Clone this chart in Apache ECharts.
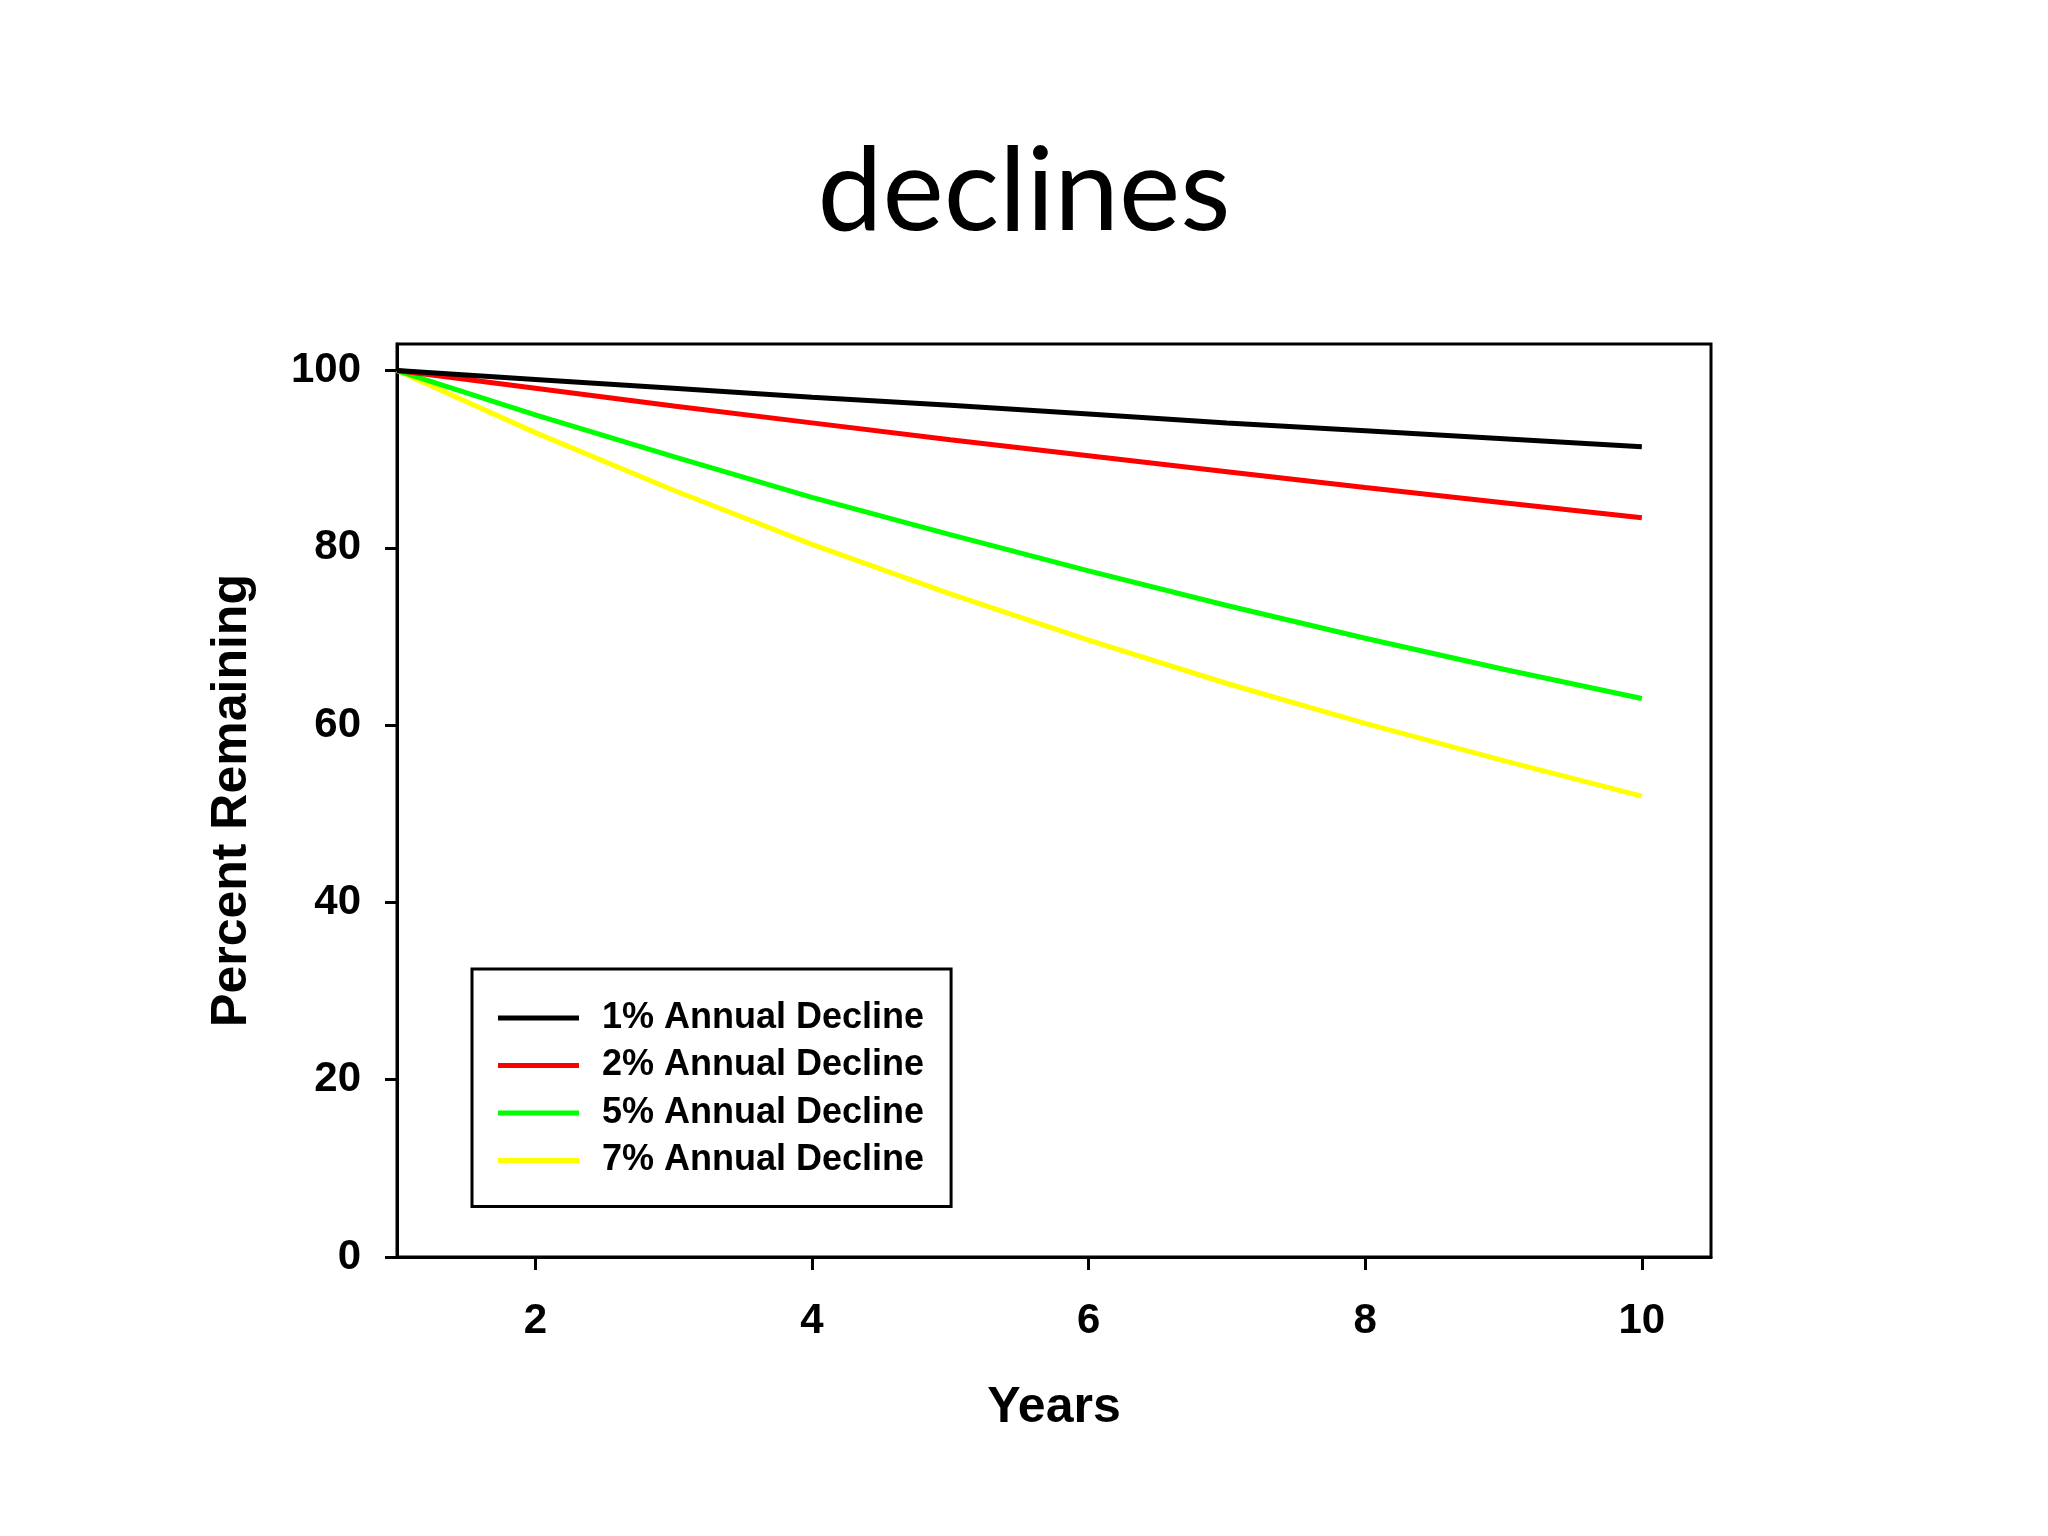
<!DOCTYPE html>
<html>
<head>
<meta charset="utf-8">
<script src="https://cdn.jsdelivr.net/npm/echarts@6/dist/echarts.min.js"></script>
<style>html,body{margin:0;padding:0;background:#fff;}#c{width:2048px;height:1536px;}</style>
</head>
<body>
<div id="c"></div>
<script>
var years = [1, 2, 3, 4, 5, 6, 7, 8, 9, 10];
var xTicks = [2, 4, 6, 8, 10];
var yTicks = [0, 20, 40, 60, 80, 100];
var seriesNames = ['1% Annual Decline', '2% Annual Decline', '5% Annual Decline', '7% Annual Decline'];
var decline1 = [100, 99.0, 98.0, 97.0, 96.1, 95.1, 94.1, 93.2, 92.3, 91.4];
var decline2 = [100, 98.0, 96.0, 94.1, 92.2, 90.4, 88.6, 86.8, 85.1, 83.4];
var decline5 = [100, 95.0, 90.3, 85.7, 81.5, 77.4, 73.5, 69.8, 66.3, 63.0];
var decline7 = [100, 93.0, 86.5, 80.4, 74.8, 69.6, 64.7, 60.2, 56.0, 52.0];
var seriesColors = ['#000000', '#ff0000', '#00ff00', '#ffff00'];

var allData = [decline1, decline2, decline5, decline7];
function pairs(vals) { return years.map(function (y, i) { return [y, vals[i]]; }); }

var font = 'Liberation Sans';
var chart = echarts.init(document.getElementById('c'));
chart.setOption({
  backgroundColor: '#ffffff',
  animation: false,
  title: {
    text: 'declines',
    left: 'center',
    top: 130,
    textStyle: { fontFamily: 'Lato', fontWeight: 'normal', fontSize: 116, color: '#000' }
  },
  grid: {
    left: 397, right: 337, top: 344, bottom: 279,
    show: true, borderColor: '#000', borderWidth: 3, backgroundColor: 'transparent'
  },
  legend: {
    orient: 'vertical',
    left: 472, top: 969,
    padding: [29, 27, 26, 26],
    borderColor: '#000', borderWidth: 3,
    itemWidth: 81, itemHeight: 5, itemGap: 7.5,
    icon: 'rect',
    data: seriesNames,
    textStyle: { fontFamily: font, fontWeight: 'bold', fontSize: 36, lineHeight: 40, color: '#000', padding: [0, 0, 0, 18] }
  },
  xAxis: {
    type: 'value', min: 1, max: 10.5,
    name: 'Years', nameLocation: 'middle', nameGap: 126,
    nameTextStyle: { fontFamily: font, fontWeight: 'bold', fontSize: 50, color: '#000' },
    splitLine: { show: false },
    axisLine: { show: true, lineStyle: { color: '#000', width: 3 } },
    axisTick: { show: true, inside: false, length: 13, lineStyle: { color: '#000', width: 3 }, customValues: xTicks },
    axisLabel: { margin: 43, fontFamily: font, fontWeight: 'bold', fontSize: 42, color: '#000', customValues: xTicks }
  },
  yAxis: {
    type: 'value', min: 0, max: 103,
    name: 'Percent Remaining', nameLocation: 'middle', nameGap: 140, nameRotate: 90,
    nameTextStyle: { fontFamily: font, fontWeight: 'bold', fontSize: 50, color: '#000' },
    splitLine: { show: false },
    axisLine: { show: true, lineStyle: { color: '#000', width: 3 } },
    axisTick: { show: true, inside: false, length: 12, lineStyle: { color: '#000', width: 3 }, customValues: yTicks },
    axisLabel: { margin: 36, fontFamily: font, fontWeight: 'bold', fontSize: 42, color: '#000', customValues: yTicks, padding: [14, 0, 0, 0] }
  },
  series: seriesNames.map(function (n, i) {
    return {
      name: n, type: 'line', data: pairs(allData[i]),
      showSymbol: false, symbol: 'none',
      lineStyle: { color: seriesColors[i], width: 5 },
      itemStyle: { color: seriesColors[i] },
      z: 10 - i
    };
  })
});
</script>
</body>
</html>
